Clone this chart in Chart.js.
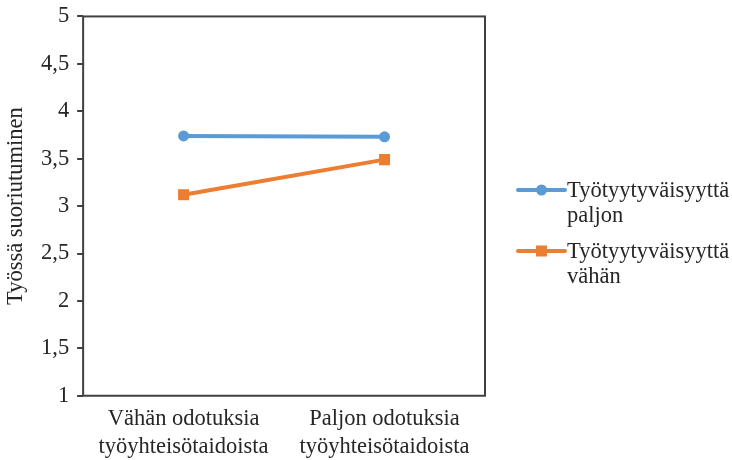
<!DOCTYPE html>
<html>
<head>
<meta charset="utf-8">
<script src="https://cdn.jsdelivr.net/npm/chart.js@4"></script>
<style>
  html, body { margin: 0; padding: 0; background: #fff; }
  #wrap { width: 732px; height: 460px; }
</style>
</head>
<body>
<div id="wrap"><canvas id="chart"></canvas></div>
<script>
// categories (x axis) and the two series
const categories = [
    ['Vähän odotuksia', 'työyhteisötaidoista'],
    ['Paljon odotuksia', 'työyhteisötaidoista']
];
const seriesNames = [
    ['Työtyytyväisyyttä', 'paljon'],
    ['Työtyytyväisyyttä', 'vähän']
];
const paljonValues = [3.74, 3.73];
const vahanValues = [3.12, 3.49];
const yTickLabels = ['1', '1,5', '2', '2,5', '3', '3,5', '4', '4,5', '5'];
const yTitle = 'Työssä suoriutuminen';

const FONT = "'Liberation Serif', 'Times New Roman', serif";
const FSIZE = 22.5;
const TEXT = '#262626';

// box round the plot area + legend on the right
const boxAndLegend = {
    id: 'boxAndLegend',
    afterDraw(chart) {
        const ctx = chart.ctx;
        const a = chart.chartArea;
        ctx.save();
        ctx.strokeStyle = '#404040';
        ctx.lineWidth = 2;
        ctx.strokeRect(a.left, a.top, a.right - a.left, a.bottom - a.top);

        // legend
        const x0 = 518, x1 = 565;
        const rows = [190, 251];
        ctx.font = FSIZE + 'px ' + FONT;
        ctx.textBaseline = 'middle';
        chart.data.datasets.forEach((ds, i) => {
            const y = rows[i];
            ctx.strokeStyle = ds.borderColor;
            ctx.lineWidth = ds.borderWidth;
            ctx.lineCap = 'round';
            ctx.beginPath();
            ctx.moveTo(x0, y);
            ctx.lineTo(x1, y);
            ctx.stroke();
            ctx.fillStyle = ds.pointBackgroundColor;
            const cx = (x0 + x1) / 2;
            if (ds.pointStyle === 'rect') {
                ctx.fillRect(cx - 5.5, y - 5.5, 11, 11);
            } else {
                ctx.beginPath();
                ctx.arc(cx, y, 5.5, 0, Math.PI * 2);
                ctx.fill();
            }
            ctx.fillStyle = TEXT;
            seriesNames[i].forEach((line, j) => {
                ctx.fillText(line, x1 + 2, y + 1 + j * 25);
            });
        });
        ctx.restore();
    }
};

new Chart(document.getElementById('chart'), {
    type: 'line',
    data: {
        labels: categories,
        datasets: [{
            label: seriesNames[0].join(' '),
            data: paljonValues,
            borderColor: '#5B9BD5',
            backgroundColor: '#5B9BD5',
            pointBackgroundColor: '#5B9BD5',
            pointBorderWidth: 0,
            borderWidth: 4,
            pointStyle: 'circle',
            pointRadius: 5.5
        }, {
            label: seriesNames[1].join(' '),
            data: vahanValues,
            borderColor: '#ED7D31',
            backgroundColor: '#ED7D31',
            pointBackgroundColor: '#ED7D31',
            pointBorderWidth: 0,
            borderWidth: 4,
            pointStyle: 'rect',
            pointRadius: 7.8
        }]
    },
    options: {
        responsive: true,
        maintainAspectRatio: false,
        animation: false,
        layout: {
            padding: { top: 0, right: 247, left: 0, bottom: -10 }
        },
        scales: {
            x: {
                offset: true,
                grid: { display: false, drawTicks: false },
                border: { display: false },
                ticks: {
                    color: TEXT,
                    font: { family: FONT, size: FSIZE, lineHeight: 1.25 },
                    padding: 9,
                    maxRotation: 0
                }
            },
            y: {
                min: 1,
                max: 5,
                grid: { drawOnChartArea: false, drawTicks: true, tickLength: 6, color: '#404040', lineWidth: 2 },
                border: { display: false },
                ticks: {
                    stepSize: 0.5,
                    color: TEXT,
                    font: { family: FONT, size: FSIZE, lineHeight: 0.75 },
                    padding: 8,
                    callback: (v, i) => yTickLabels[i]
                },
                title: {
                    display: true,
                    text: yTitle,
                    color: TEXT,
                    font: { family: FONT, size: FSIZE },
                    padding: { top: 3, bottom: 3 }
                }
            }
        },
        plugins: {
            legend: { display: false },
            tooltip: { enabled: false }
        }
    },
    plugins: [boxAndLegend]
});
</script>
</body>
</html>
